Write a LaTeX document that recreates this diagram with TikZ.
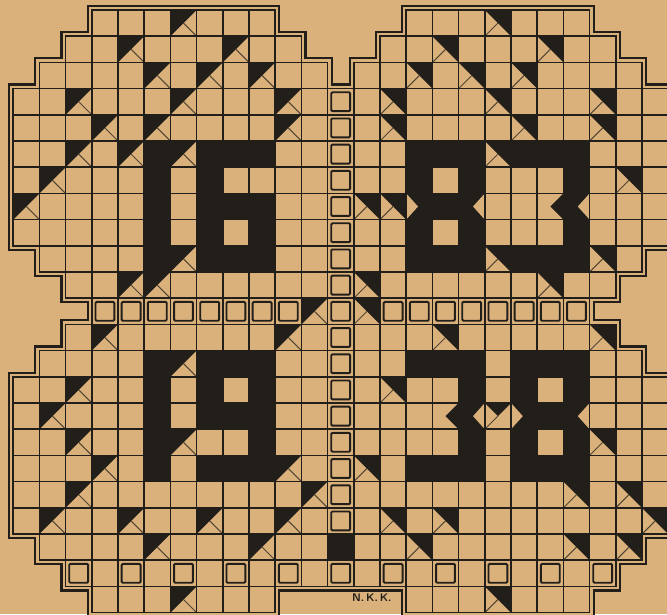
\documentclass[tikz,border=0pt]{standalone}
\usepackage{tikz}
\usetikzlibrary{calc}
\definecolor{paper}{RGB}{219,177,123}
\definecolor{ink}{RGB}{34,31,27}

% cells are addressed as {column}{row}, rows counted from the top
\newcommand{\blkA}[2]{\fill[ink] (#1,-#2) -- ++(1,0) -- ++(-1,-1) -- cycle;
	\draw[hair] (#1+0.5,-#2-0.5) -- ++(0.5,-0.5);}
\newcommand{\blkB}[2]{\fill[ink] (#1,-#2) -- ++(1,0) -- ++(0,-1) -- cycle;
	\draw[hair] (#1+0.5,-#2-0.5) -- ++(-0.5,-0.5);}
\newcommand{\blkfull}[2]{\fill[ink] (#1,-#2) rectangle ++(1,-1);}
\newcommand{\holesq}[2]{\draw[holeline] (#1+0.14,-#2-0.14) rectangle ++(0.72,-0.72);}
\newcommand{\cellrow}[3]{\foreach \c in {#2,...,#3} {\draw[gridline] (\c,-#1) rectangle ++(1,-1);}}
\newcommand{\rim}{(3,0) -- (10,0) -- (10,-1) -- (11,-1) -- (11,-2) -- (12,-2) -- (12,-3) -- (13,-3)
	-- (13,-2) -- (14,-2) -- (14,-1) -- (15,-1) -- (15,0) -- (22,0) -- (22,-1) -- (23,-1) -- (23,-2)
	-- (24,-2) -- (24,-3) -- (25,-3) -- (25,-9) -- (24,-9) -- (24,-10) -- (23,-10) -- (23,-11)
	-- (22,-11) -- (22,-12) -- (23,-12) -- (23,-13) -- (24,-13) -- (24,-14) -- (25,-14) -- (25,-20)
	-- (24,-20) -- (24,-21) -- (23,-21) -- (23,-22) -- (22,-22) -- (22,-23) -- (15,-23) -- (15,-22)
	-- (10,-22) -- (10,-23) -- (3,-23) -- (3,-22) -- (2,-22) -- (2,-21) -- (1,-21) -- (1,-20)
	-- (0,-20) -- (0,-14) -- (1,-14) -- (1,-13) -- (2,-13) -- (2,-12) -- (3,-12) -- (3,-11)
	-- (2,-11) -- (2,-10) -- (1,-10) -- (1,-9) -- (0,-9) -- (0,-3) -- (1,-3) -- (1,-2) -- (2,-2)
	-- (2,-1) -- (3,-1) -- cycle}

\begin{document}
\begin{tikzpicture}[x=0.5cm,y=0.5cm,line join=miter,
	gridline/.style={draw=ink,line width=0.85pt},
	hair/.style={draw=ink!75!paper,line width=0.55pt},
	holeline/.style={draw=ink,line width=1.05pt,rounded corners=0.6pt}]
	
	\useasboundingbox (-0.504,0.382) rectangle (24.954,-23.053);
	\clip (-0.504,0.382) rectangle (24.954,-23.053);
	\fill[paper] (-0.504,0.382) rectangle (24.954,-23.053);
	
	% double rim
	\draw[ink,line width=5.7pt] \rim;
	\draw[paper,line width=3.3pt] \rim;
	\fill[paper] \rim;
	
	% 16
	\fill[ink] (5,-5) rectangle (6,-10);
	\blkA{5}{10} \blkA{6}{5} \blkA{6}{9}
	\fill[ink] (7,-5) rectangle (10,-10);
	\fill[paper] (8,-6) rectangle (10,-7) (8,-8) rectangle (9,-9);
	
	% 83
	\fill[ink] (15,-5) rectangle (18,-10);
	\fill[paper] (16,-6) rectangle (17,-7) (16,-8) rectangle (17,-9);
	\fill[paper] (15,-7) -- (15.45,-7.5) -- (15,-8) -- cycle;
	\fill[paper] (18,-7) -- (17.55,-7.5) -- (18,-8) -- cycle;
	\blkB{18}{5}
	\fill[ink] (19,-5) rectangle (22,-6) (21,-6) rectangle (22,-9) (19,-9) rectangle (22,-10);
	\blkB{18}{9} \blkB{20}{10}
	\fill[ink] (21,-7) -- (20.5,-7.5) -- (21,-8) -- cycle;
	\fill[paper] (22,-7) -- (21.55,-7.5) -- (22,-8) -- cycle;
	
	% 19
	\fill[ink] (5,-13) rectangle (6,-18);
	\blkA{6}{13} \blkA{6}{16}
	\fill[ink] (7,-13) rectangle (10,-18);
	\fill[paper] (8,-14) rectangle (9,-15) (7,-16) rectangle (9,-17);
	\blkA{10}{17}
	
	% 38
	\fill[ink] (15,-13) rectangle (18,-14) (17,-14) rectangle (18,-17) (15,-17) rectangle (18,-18);
	\fill[ink] (17,-15) -- (16.5,-15.5) -- (17,-16) -- cycle;
	\fill[paper] (18,-15) -- (17.55,-15.5) -- (18,-16) -- cycle;
	\fill[ink] (18,-15) -- (19,-15) -- (18.5,-15.5) -- cycle;
	\draw[hair] (18.5,-15.5) -- (18,-16);
	\fill[ink] (19,-13) rectangle (22,-18);
	\fill[paper] (20,-14) rectangle (21,-15) (20,-16) rectangle (21,-17);
	\fill[paper] (19,-15) -- (19.45,-15.5) -- (19,-16) -- cycle;
	\fill[paper] (22,-15) -- (21.55,-15.5) -- (22,-16) -- cycle;
	\blkB{21}{18}
	
	% half cells
	\foreach \c/\r in {6/0,4/1,8/1,5/2,7/2,9/2,2/3,6/3,10/3,3/4,5/4,10/4,2/5,4/5,1/6,0/7,4/10,11/11,
		3/12,10/12,2/14,1/15,2/16,3/17,2/18,11/18,1/19,4/19,7/19,10/19,5/20,9/20,6/22}
		{\blkA{\c}{\r}}
	\foreach \c/\r in {18/0,16/1,20/1,15/2,17/2,19/2,14/3,18/3,22/3,14/4,19/4,22/4,23/6,13/7,14/7,
		22/9,13/10,13/11,16/12,22/12,14/14,22/16,13/17,23/18,14/19,16/19,24/19,15/20,21/20,23/20,18/22}
		{\blkB{\c}{\r}}
	\blkfull{12}{20}
	
	% grid
	\cellrow{0}{3}{9} \cellrow{0}{15}{21}
	\cellrow{1}{2}{10} \cellrow{1}{14}{22}
	\cellrow{2}{1}{11} \cellrow{2}{13}{23}
	\foreach \r in {3,...,8} {\cellrow{\r}{0}{24}}
	\cellrow{9}{1}{23} \cellrow{10}{2}{22} \cellrow{11}{3}{21}
	\cellrow{12}{2}{22} \cellrow{13}{1}{23}
	\foreach \r in {14,...,19} {\cellrow{\r}{0}{24}}
	\cellrow{20}{1}{23} \cellrow{21}{2}{22}
	\cellrow{22}{3}{9} \cellrow{22}{15}{21}
	
	% open squares
	\foreach \r in {3,...,19} {\holesq{12}{\r}}
	\foreach \c in {3,...,10} {\holesq{\c}{11}}
	\foreach \c in {14,...,21} {\holesq{\c}{11}}
	\foreach \c in {2,4,...,22} {\holesq{\c}{21}}
	
	\node[font=\sffamily\bfseries\fontsize{6}{7}\selectfont,text=ink] (sig) at (13.69,-22.44) {N.\,K.\,K.};
	
\end{tikzpicture}
\end{document}
